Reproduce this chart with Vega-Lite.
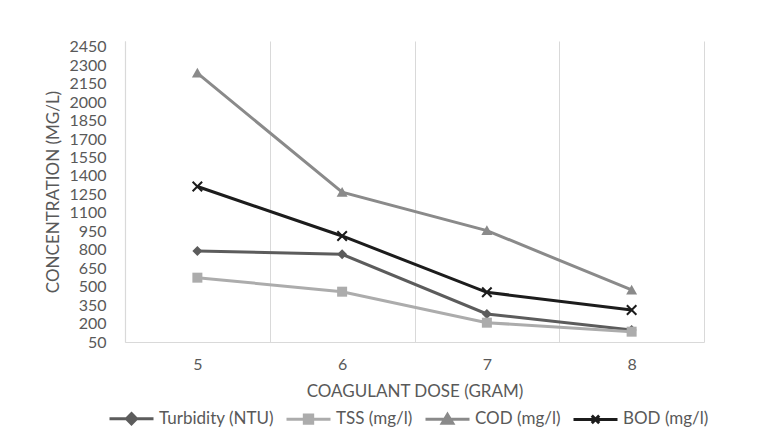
{
  "$schema": "https://vega.github.io/schema/vega-lite/v6.json",
  "autosize": "none",
  "width": 579,
  "height": 301,
  "padding": {"left": 125, "top": 41, "right": 61, "bottom": 98},
  "background": "white",
  "config": {
    "view": {"stroke": null},
    "font": "Lato",
    "axis": {"labelFont": "Lato", "titleFont": "Lato", "labelColor": "#595959", "titleColor": "#595959", "labelFontSize": 16, "titleFontSize": 17, "titleFontWeight": "normal", "domainColor": "#d9d9d9", "domainWidth": 1.2, "ticks": false},
    "legend": {"labelFont": "Lato", "labelFontSize": 17, "labelColor": "#595959", "symbolStrokeWidth": 3, "symbolOpacity": 1}
  },
  "data": {
    "values": [
      {"dose": 5, "series": "Turbidity (NTU)", "value": 790},
      {"dose": 6, "series": "Turbidity (NTU)", "value": 763},
      {"dose": 7, "series": "Turbidity (NTU)", "value": 278},
      {"dose": 8, "series": "Turbidity (NTU)", "value": 148},
      {"dose": 5, "series": "TSS (mg/l)", "value": 573},
      {"dose": 6, "series": "TSS (mg/l)", "value": 459},
      {"dose": 7, "series": "TSS (mg/l)", "value": 207},
      {"dose": 8, "series": "TSS (mg/l)", "value": 134},
      {"dose": 5, "series": "COD (mg/l)", "value": 2236},
      {"dose": 6, "series": "COD (mg/l)", "value": 1268},
      {"dose": 7, "series": "COD (mg/l)", "value": 956},
      {"dose": 8, "series": "COD (mg/l)", "value": 473},
      {"dose": 5, "series": "BOD (mg/l)", "value": 1314},
      {"dose": 6, "series": "BOD (mg/l)", "value": 912},
      {"dose": 7, "series": "BOD (mg/l)", "value": 454},
      {"dose": 8, "series": "BOD (mg/l)", "value": 310}
    ]
  },
  "encoding": {
    "x": {
      "field": "dose", "type": "quantitative",
      "scale": {"domain": [4.5, 8.5], "nice": false, "zero": false},
      "axis": {
        "title": "COAGULANT DOSE (GRAM)",
        "values": [4.5, 5, 5.5, 6, 6.5, 7, 7.5, 8, 8.5],
        "labelExpr": "datum.value % 1 === 0 ? format(datum.value, 'd') : ''",
        "labelFlush": false,
        "labelPadding": 14,
        "titlePadding": 11,
        "grid": true,
        "gridColor": "#d9d9d9",
        "gridOpacity": {"condition": {"test": "datum.value % 1 !== 0", "value": 1}, "value": 0}
      }
    },
    "y": {
      "field": "value", "type": "quantitative",
      "scale": {"domain": [50, 2497], "nice": false, "zero": false},
      "axis": {
        "title": "CONCENTRATION (MG/L)",
        "format": "d",
        "values": [50, 200, 350, 500, 650, 800, 950, 1100, 1250, 1400, 1550, 1700, 1850, 2000, 2150, 2300, 2450],
        "grid": false,
        "labelPadding": 19,
        "titlePadding": 6
      }
    },
    "color": {
      "field": "series", "type": "nominal",
      "scale": {"domain": ["Turbidity (NTU)", "TSS (mg/l)", "COD (mg/l)", "BOD (mg/l)"], "range": ["#5c5c5c", "#acacac", "#8a8a8a", "#1c1c1c"]},
      "legend": {"title": null, "orient": "none", "direction": "horizontal", "legendX": -17, "legendY": 354, "symbolSize": 1936, "labelOffset": 4, "columnPadding": 6}
    }
  },
  "layer": [
    {
      "mark": {"type": "line", "strokeWidth": 3}
    },
    {
      "transform": [{"filter": "datum.series === 'Turbidity (NTU)'"}],
      "mark": {"type": "point", "filled": true, "size": 100, "opacity": 1, "shape": "M0,-1L1,0L0,1L-1,0Z"}
    },
    {
      "transform": [{"filter": "datum.series === 'TSS (mg/l)'"}],
      "mark": {"type": "point", "filled": true, "size": 100, "opacity": 1, "shape": "M-1,-1H1V1H-1Z"}
    },
    {
      "transform": [{"filter": "datum.series === 'COD (mg/l)'"}],
      "mark": {"type": "point", "filled": true, "size": 100, "opacity": 1, "shape": "M0,-1.05L1.1,0.9H-1.1Z"}
    },
    {
      "transform": [{"filter": "datum.series === 'BOD (mg/l)'"}],
      "mark": {"type": "point", "filled": false, "size": 90, "opacity": 1, "strokeWidth": 2, "shape": "M-1,-1L1,1M-1,1L1,-1"}
    },
    {
      "mark": {"type": "point", "filled": true, "size": 1936, "opacity": 0},
      "encoding": {
        "shape": {
          "field": "series", "type": "nominal",
          "scale": {"domain": ["Turbidity (NTU)", "TSS (mg/l)", "COD (mg/l)", "BOD (mg/l)"], "range": ["M-1,0H1M0,-0.23L0.23,0L0,0.23L-0.23,0Z", "M-1,0H1M-0.19,-0.19H0.19V0.19H-0.19Z", "M-1,0H1M0,-0.22L0.24,0.18H-0.24Z", "M-1,0H1M-0.17,-0.17L0.17,0.17M-0.17,0.17L0.17,-0.17"]},
          "legend": {"title": null, "orient": "none", "direction": "horizontal", "legendX": -17, "legendY": 354, "symbolSize": 1936, "labelOffset": 4, "columnPadding": 6}
        }
      }
    }
  ]
}
